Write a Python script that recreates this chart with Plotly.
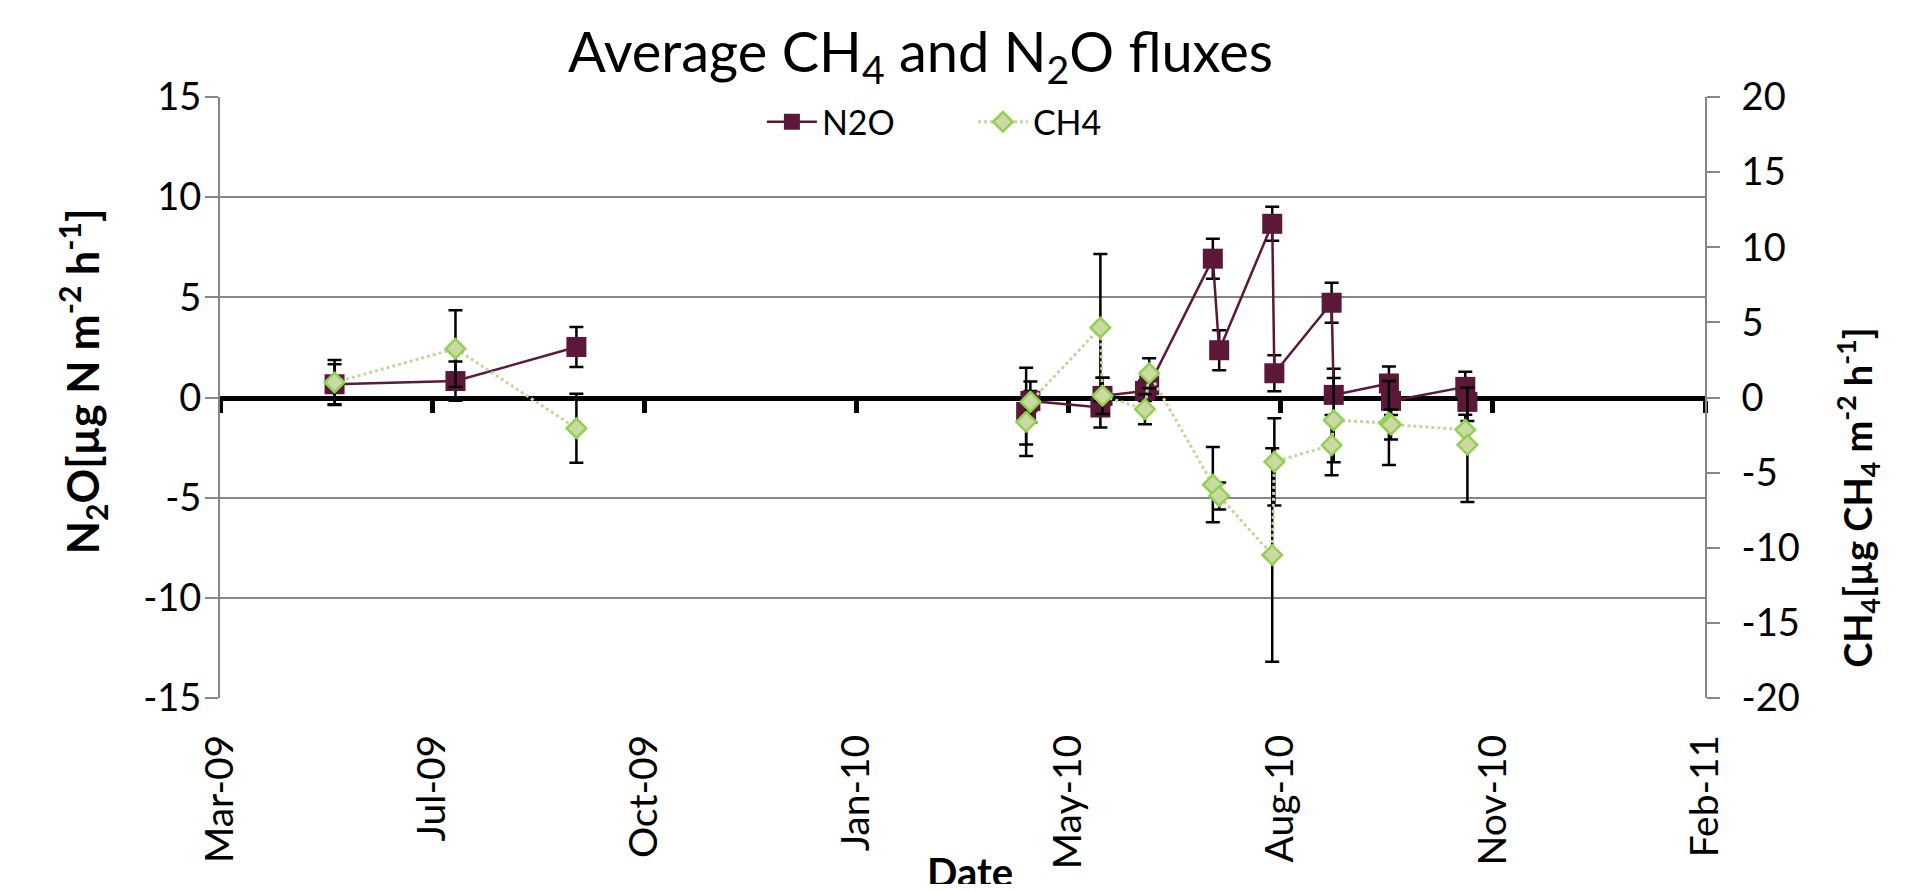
import plotly.graph_objects as go

# ---- data ----
dates_2009 = ["2009-05-21", "2009-07-17", "2009-09-12"]
n2o_2009 = [0.66, 0.82, 2.52]
n2o_err_2009 = [1.0, 0.98, 1.0]
ch4_2009 = [1.0, 3.25, -2.05]
ch4_err_2009 = [1.5, 2.55, 2.3]

dates_2010 = ["2010-04-12", "2010-04-14", "2010-05-17", "2010-05-18",
              "2010-06-07", "2010-06-09", "2010-07-09", "2010-07-12",
              "2010-08-06", "2010-08-07", "2010-09-03", "2010-09-04",
              "2010-09-30", "2010-10-01", "2010-11-05", "2010-11-06"]
n2o_2010 = [-0.72, -0.17, -0.5, 0.08, 0.33, 0.61, 6.93, 2.36,
            8.67, 1.21, 4.73, 0.13, 0.7, -0.17, 0.53, -0.22]
n2o_err_2010 = [2.2, 0.5, 1.0, 0.9, 0.5, 0.5, 1.0, 1.0,
                0.85, 0.9, 1.0, 1.3, 0.85, 0.7, 0.75, 0.95]
ch4_2010 = [-1.62, -0.29, 4.65, 0.11, -0.78, 1.61, -5.8, -6.55,
            -10.48, -4.28, -3.17, -1.51, -1.7, -1.8, -2.15, -3.15]
ch4_err_2010 = [1.5, 1.35, 4.9, 1.2, 1.0, 1.0, 2.5, 0.9,
                7.1, 2.9, 2.0, 2.8, 2.8, 1.0, 1.0, 3.8]

x_range = ["2009-03-28", "2011-02-26"]
tick_dates = ["2009-03-28", "2009-07-06", "2009-10-14", "2010-01-22",
              "2010-05-02", "2010-08-10", "2010-11-18", "2011-02-26"]
tick_labels = ["Mar-09", "Jul-09", "Oct-09", "Jan-10",
               "May-10", "Aug-10", "Nov-10", "Feb-11"]
left_ticks = [-15, -10, -5, 0, 5, 10, 15]
left_tick_text = ["-15", "-10", "-5", "0", "5", "10", "15"]
right_ticks = [-20, -15, -10, -5, 0, 5, 10, 15, 20]
right_tick_text = ["-20", "-15", "-10", "-5", "0", "5", "10", "15", "20"]

# ---- style ----
FONT = "Lato"
N2O_COLOR = "#5B1838"
CH4_FILL = "#C9DAA4"
CH4_EDGE = "#92D050"
CH4_LINE = "#C3D69B"
GRID = "#868686"

x_all = dates_2009 + [None] + dates_2010
n2o_all = n2o_2009 + [None] + n2o_2010
n2o_err_all = n2o_err_2009 + [0] + n2o_err_2010
ch4_all = ch4_2009 + [None] + ch4_2010
ch4_err_all = ch4_err_2009 + [0] + ch4_err_2010

fig = go.Figure()
fig.add_trace(go.Scatter(
    x=x_all, y=n2o_all, name="N2O", mode="lines+markers",
    xaxis="x", yaxis="y",
    line=dict(color=N2O_COLOR, width=2.5),
    marker=dict(symbol="square", size=20, color=N2O_COLOR, line=dict(width=0)),
    error_y=dict(type="data", array=n2o_err_all, color="black", thickness=2.5, width=7),
    connectgaps=False,
))
fig.add_trace(go.Scatter(
    x=x_all, y=ch4_all, name="CH4", mode="lines+markers",
    xaxis="x2", yaxis="y2",
    line=dict(color=CH4_LINE, width=3, dash="dot"),
    marker=dict(symbol="diamond", size=15, color=CH4_FILL, line=dict(width=2.5, color=CH4_EDGE)),
    error_y=dict(type="data", array=ch4_err_all, color="black", thickness=2.5, width=7),
    connectgaps=False,
))

fig.update_layout(
    width=1905, height=876,
    margin=dict(l=212, r=208, t=89, b=186),
    paper_bgcolor="white", plot_bgcolor="white",
    font=dict(family=FONT, color="black", size=36),
    showlegend=True,
    legend=dict(orientation="h", x=0.507, y=0.958, xanchor="center", yanchor="middle",
                font=dict(family=FONT, size=34, color="black"), bgcolor="rgba(0,0,0,0)",
                itemwidth=50, entrywidth=146, entrywidthmode="pixels", tracegroupgap=0),
    xaxis=dict(type="date", range=x_range, anchor="free", position=0.5,
               tickmode="array", tickvals=tick_dates, showticklabels=False,
               ticks="outside", ticklen=12, tickwidth=5, tickcolor="black",
               showline=True, linecolor="black", linewidth=5,
               showgrid=False, zeroline=False, layer="below traces"),
    xaxis2=dict(type="date", range=x_range, overlaying="x", anchor="y", side="bottom",
                tickmode="array", tickvals=tick_dates, ticktext=tick_labels,
                tickangle=-90, ticks="", showline=False, showgrid=False, zeroline=False,
                tickfont=dict(family=FONT, size=39, color="black"), ticklabelstandoff=28),
    yaxis=dict(range=[-15, 15], tickmode="array", tickvals=left_ticks, ticktext=left_tick_text,
               showgrid=True, gridcolor=GRID, gridwidth=2,
               showline=True, linecolor=GRID, linewidth=2,
               ticks="outside", ticklen=13, tickwidth=2, tickcolor=GRID,
               zeroline=False, tickfont=dict(family=FONT, size=38, color="black"),
               ticklabelstandoff=-4),
    yaxis2=dict(range=[-20, 20], tickmode="array", tickvals=right_ticks, ticktext=right_tick_text,
                overlaying="y", side="right", anchor="x2",
                showgrid=False, showline=True, linecolor=GRID, linewidth=2,
                ticks="outside", ticklen=13, tickwidth=2, tickcolor=GRID,
                zeroline=False, tickfont=dict(family=FONT, size=38, color="black"),
                ticklabelstandoff=14),
    annotations=[
        dict(text="Average CH<sub>4</sub> and N<sub>2</sub>O fluxes", xref="paper", yref="paper",
             x=0.472, y=1.07, xanchor="center", yanchor="middle", showarrow=False,
             font=dict(family=FONT, size=56, color="black")),
        dict(text="<b>N<sub>2</sub>O[µg N m<sup>-2</sup> h<sup>-1</sup>]</b>", xref="paper", yref="paper",
             x=-0.093, y=0.527, xanchor="center", yanchor="middle", textangle=-90, showarrow=False,
             font=dict(family=FONT, size=43, color="black")),
        dict(text="<b>CH<sub>4</sub>[µg CH<sub>4</sub> m<sup>-2</sup> h<sup>-1</sup>]</b>", xref="paper", yref="paper",
             x=1.103, y=0.333, xanchor="center", yanchor="middle", textangle=-90, showarrow=False,
             font=dict(family=FONT, size=38, color="black")),
        dict(text="<b>Date</b>", xref="paper", yref="paper",
             x=0.505, y=-0.29, xanchor="center", yanchor="middle", showarrow=False,
             font=dict(family=FONT, size=40, color="black")),
    ],
)

fig.write_html("out.html")
